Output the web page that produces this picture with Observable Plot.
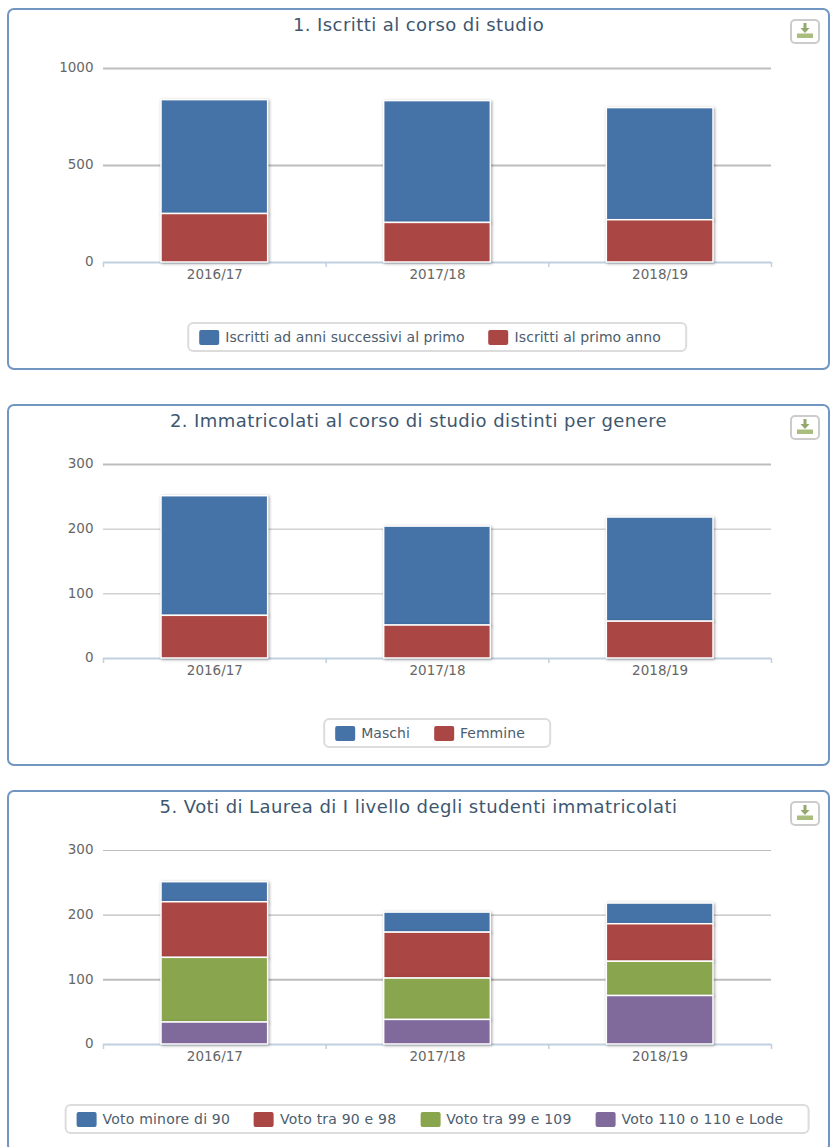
<!DOCTYPE html>
<html lang="it">
<head>
<meta charset="utf-8">
<title>Corso di studio</title>
<script src="https://cdn.jsdelivr.net/npm/d3@7"></script>
<script src="https://cdn.jsdelivr.net/npm/@observablehq/plot@0.6"></script>
<style>
  html, body { margin: 0; padding: 0; background: #fff; width: 834px; height: 1147px; overflow: hidden; }
  body { position: relative; font-family: "DejaVu Sans", sans-serif; }
  .panel { position: absolute; left: 7px; width: 819px; height: 358px; border: 2px solid #7196c2; border-radius: 7px; box-sizing: content-box; background: #fff; }
  .panel h2 { position: absolute; left: 0; right: 0; top: 4px; margin: 0; text-align: center; font-size: 18px; letter-spacing: .43px; line-height: 22px; font-weight: 400; color: #3e576f; }
  .plot { position: absolute; left: -9px; top: 48px; }
  .plot svg { display: block; overflow: visible; max-width: none !important; }
  .plot g[aria-label="rect"] rect { filter: drop-shadow(1px 1px 1.5px rgba(0, 0, 0, .36)); }
  .legend { position: absolute; height: 30px; display: flex; align-items: center; gap: 24px; padding: 1px 24px 0 10px; border: 2px solid #dcdcdc; border-radius: 6px; box-sizing: border-box; background: #fff; transform: translateX(-50%); white-space: nowrap; font-size: 14px; color: #4d5d6d; }
  .legend span.item { display: flex; align-items: center; gap: 6px; }
  .legend i { display: block; width: 20px; height: 15px; border-radius: 2px; }
  .export { position: absolute; left: 781px; top: 9px; width: 30px; height: 25px; box-sizing: border-box; border: 2px solid #cccccc; border-radius: 5px; background: #fff; }
  .export svg { display: block; margin: 1px auto 0; }
</style>
</head>
<body>
<script>
const years = ["2016/17", "2017/18", "2018/19"];
const slots = [0, 1, 2];
const slotEdges = [0, 1, 2, 3];

// 1. Iscritti
const iscrittiSuccessivi = [587, 628, 578];
const iscrittiPrimo = [250, 204, 218];

// 2. Immatricolati per genere
const maschi = [185, 153, 161];
const femmine = [66, 51, 57];

// 5. Voti di Laurea
const votoMinore90 = [31, 31, 32];
const voto90a98 = [86, 71, 58];
const voto99a109 = [100, 64, 53];
const voto110 = [34, 38, 75];

const palette = ["#4572a7", "#aa4643", "#89a54e", "#80699b"];

const charts = [
  {
    title: "1. Iscritti al corso di studio",
    series: [["Iscritti ad anni successivi al primo", iscrittiSuccessivi], ["Iscritti al primo anno", iscrittiPrimo]],
    ticks: [0, 500, 1000], gridWidths: [0, 2, 2], top: 8, tracking: 0.05
  },
  {
    title: "2. Immatricolati al corso di studio distinti per genere",
    series: [["Maschi", maschi], ["Femmine", femmine]],
    ticks: [0, 100, 200, 300], gridWidths: [0, 1, 1, 2], top: 404, tracking: 0.05
  },
  {
    title: "5. Voti di Laurea di I livello degli studenti immatricolati",
    series: [["Voto minore di 90", votoMinore90], ["Voto tra 90 e 98", voto90a98], ["Voto tra 99 e 109", voto99a109], ["Voto 110 o 110 e Lode", voto110]],
    ticks: [0, 100, 200, 300], gridWidths: [0, 2, 1.4, 1], top: 790, tracking: 0.2
  }
];

const downloadIcon = `<svg width="20" height="18" viewBox="0 0 20 18"><path d="M8.5 1h3v5h3l-4.500 5-4.500-5h3z" fill="#93a86c"/><rect x="2" y="11.500" width="16" height="4.500" fill="#a9bd7c"/></svg>`;

for (const chart of charts) {
  const panel = document.createElement("div");
  panel.className = "panel";
  panel.style.top = chart.top + "px";

  const heading = document.createElement("h2");
  heading.textContent = chart.title;
  panel.append(heading);

  const names = chart.series.map(([name]) => name);
  const rows = chart.series.flatMap(([series, values]) =>
    values.map((value, k) => ({series, value, slot: slots[k], next: slots[k] + 1}))
  );
  const maxTick = d3.max(chart.ticks);

  const plot = Plot.plot({
    width: 834,
    height: 234,
    marginTop: 10,
    marginBottom: 30,
    marginLeft: 103,
    marginRight: 63,
    style: {background: "transparent", fontFamily: "'DejaVu Sans', sans-serif", fontSize: "13px", color: "#666"},
    x: {domain: [0, 3], axis: null},
    y: {domain: [0, maxTick], axis: null},
    color: {domain: names, range: palette},
    marks: [
      Plot.ruleY(chart.ticks.filter(t => t > 0), {
        stroke: "#bdbdbd",
        strokeWidth: t => chart.gridWidths[chart.ticks.indexOf(t)]
      }),
      Plot.ruleY([0], {stroke: "#c0d0e0", strokeWidth: 2}),
      Plot.axisX({ticks: slotEdges, tickFormat: () => "", tickSize: 5, stroke: "#c0d0e0", strokeWidth: 1.5, anchor: "bottom", label: null}),
      Plot.axisX({ticks: slots.map(s => s + 0.5), tickFormat: v => years[Math.floor(v)], tickSize: 0, tickPadding: 7, anchor: "bottom", label: null, fill: "#666", fontSize: 13.5, letterSpacing: 0.15}),
      Plot.axisY({ticks: chart.ticks, tickSize: 0, tickPadding: 10, anchor: "left", label: null, fill: "#666", fontSize: 13.5, dy: -0.5, tickFormat: d => String(d)}),
      Plot.rectY(rows, {
        x1: "slot",
        x2: "next",
        y: "value",
        z: "series",
        fill: "series",
        order: [...names].reverse(),
        stroke: "#fff",
        strokeWidth: 1.5,
        insetLeft: 58,
        insetRight: 58
      })
    ]
  });
  const holder = document.createElement("div");
  holder.className = "plot";
  holder.append(plot);
  panel.append(holder);

  const legend = document.createElement("div");
  legend.className = "legend";
  legend.style.left = "428px";
  legend.style.top = "311.5px";
  legend.style.letterSpacing = chart.tracking + "px";
  names.forEach((name, i) => {
    const item = document.createElement("span");
    item.className = "item";
    const swatch = document.createElement("i");
    swatch.style.background = palette[i];
    item.append(swatch, name);
    legend.append(item);
  });
  panel.append(legend);

  const button = document.createElement("div");
  button.className = "export";
  button.innerHTML = downloadIcon;
  panel.append(button);

  document.body.append(panel);
}
</script>
</body>
</html>
